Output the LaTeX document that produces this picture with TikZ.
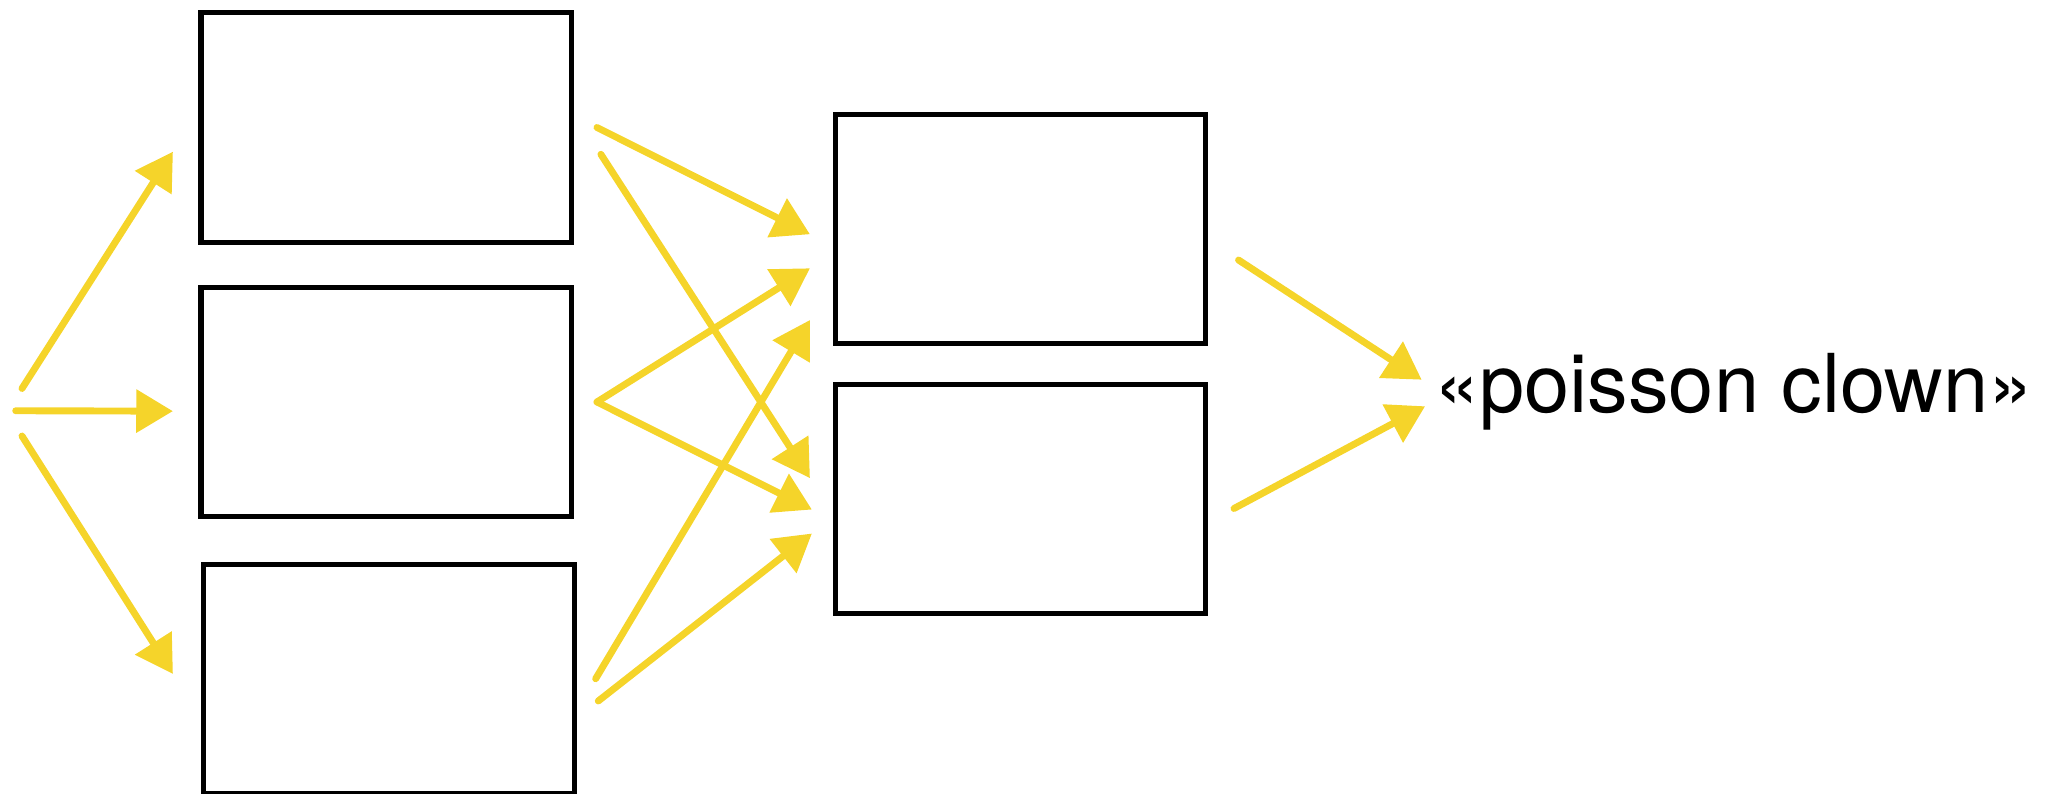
\documentclass[tikz,border=0pt]{standalone}
\usepackage{fontspec}
\setmainfont{TeX Gyre Heros}
\usetikzlibrary{positioning,arrows.meta}
\definecolor{chalk}{RGB}{245,212,42}

\tikzstyle{box} = [rectangle, minimum width=5.66cm, minimum height=3.5cm, draw=black, line width=2.2pt, fill=white]
\tikzstyle{flow} = [-{Triangle[length=0.56cm,width=0.64cm]}, draw=chalk, line width=3pt, line cap=round]

\begin{document}
\begin{tikzpicture}
\useasboundingbox (0,0) rectangle (31.36,-12.115);

%Boxes
\node (A) [box] at (5.9,-1.947) {};
\node (B) [box,below=0.616cm of A] {};
\node (C) [box,below=0.65cm of B,xshift=0.04cm] {};
\node (D) [box,right=3.953cm of A,yshift=-1.551cm] {};
\node (E) [box,below=0.543cm of D] {};

%Label
\node (clown) [anchor=base west,inner sep=0pt,font=\fontsize{35.3}{40}\selectfont] at (21.9,-6.3) {«poisson clown»};

%Inputs
\coordinate (src1) at (0.336,-5.934);
\coordinate (src2) at (0.24,-6.274);
\coordinate (src3) at (0.336,-6.66);

%Arrows
\draw [flow] (src1) -- ([xshift=-0.39cm,yshift=-0.37cm]A.west);
\draw [flow] (src2) -- ([xshift=-0.39cm,yshift=-0.14cm]B.west);
\draw [flow] (src3) -- ([xshift=-0.43cm,yshift=0.074cm]C.west);

\draw [flow] ([xshift=0.35cm]A.east) -- ([xshift=-0.35cm,yshift=-0.08cm]D.west);
\draw [flow] ([xshift=0.41cm,yshift=-0.41cm]A.east) -- ([xshift=-0.35cm,yshift=0.315cm]E.west);
\draw [flow] ([xshift=0.35cm]B.east) -- ([xshift=-0.35cm,yshift=-0.6cm]D.west);
\draw [flow] ([xshift=0.35cm]B.east) -- ([xshift=-0.32cm,yshift=-0.165cm]E.west);
\draw [flow] ([xshift=0.29cm]C.east) -- ([xshift=-0.35cm,yshift=-1.39cm]D.west);
\draw [flow] ([xshift=0.33cm,yshift=-0.34cm]C.east) -- ([xshift=-0.32cm,yshift=-0.531cm]E.west);

\draw [flow] ([xshift=0.46cm,yshift=-0.474cm]D.east) -- ([xshift=-0.184cm,yshift=0.5cm]clown.base west);
\draw [flow] ([xshift=0.39cm,yshift=-0.149cm]E.east) -- ([xshift=-0.132cm,yshift=0.094cm]clown.base west);

\end{tikzpicture}
\end{document}
